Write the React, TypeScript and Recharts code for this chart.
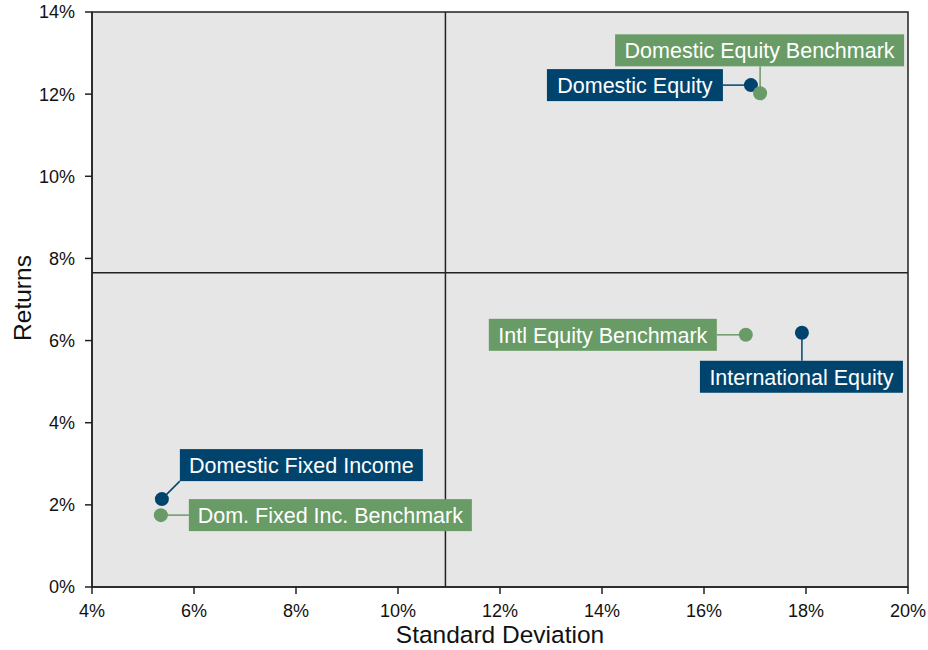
import React from 'react';
import {
  ScatterChart, Scatter, XAxis, YAxis, ReferenceLine, ReferenceArea,
} from 'recharts';

const names = [
  'Domestic Equity',
  'Domestic Equity Benchmark',
  'Intl Equity Benchmark',
  'International Equity',
  'Domestic Fixed Income',
  'Dom. Fixed Inc. Benchmark',
];
const kinds = ['portfolio', 'benchmark', 'benchmark', 'portfolio', 'portfolio', 'benchmark'];
const stdDev = [16.92, 17.1, 16.82, 17.92, 5.37, 5.35];
const returns = [12.22, 12.02, 6.14, 6.19, 2.14, 1.75];

const xTicks = [4, 6, 8, 10, 12, 14, 16, 18, 20];
const yTicks = [0, 2, 4, 6, 8, 10, 12, 14];

const crossX = 10.93;
const crossY = 7.65;

const data = names.map((name, i) => ({ name, kind: kinds[i], x: stdDev[i], y: returns[i] }));

// label box layout (pixel offsets relative to each point)
const labelLayout: Record<string, { dx: number; dy: number; w: number; h: number }> = {
  'Domestic Equity': { dx: -204, dy: -16, w: 176, h: 32 },
  'Domestic Equity Benchmark': { dx: -145, dy: -59, w: 289, h: 32 },
  'Intl Equity Benchmark': { dx: -257, dy: -16, w: 228, h: 32 },
  'International Equity': { dx: -102, dy: 28, w: 203, h: 32 },
  'Domestic Fixed Income': { dx: 18, dy: -50, w: 243, h: 32 },
  'Dom. Fixed Inc. Benchmark': { dx: 28, dy: -16, w: 283, h: 32 },
};

const NAVY = '#00446e';
const GREEN = '#699b66';
const FONT = '"Liberation Sans", Arial, sans-serif';

const renderPoint = (props: any) => {
  const { cx, cy, payload } = props;
  const lay = labelLayout[payload.name];
  const color = payload.kind === 'portfolio' ? NAVY : GREEN;
  const bx = cx + lay.dx;
  const by = cy + lay.dy;
  const lx = Math.min(Math.max(cx, bx), bx + lay.w);
  const ly = Math.min(Math.max(cy, by), by + lay.h);
  return (
    <g>
      <line x1={cx} y1={cy} x2={lx} y2={ly} stroke={color} strokeWidth={1.5} />
      <rect x={bx} y={by} width={lay.w} height={lay.h} fill={color} />
      <text
        x={bx + lay.w / 2}
        y={by + lay.h / 2 + 1}
        textAnchor="middle"
        dominantBaseline="central"
        fill="#ffffff"
        fontSize={21.5}
        fontFamily={FONT}
      >
        {payload.name}
      </text>
      <circle cx={cx} cy={cy} r={7} fill={color} />
    </g>
  );
};

export default function App() {
  return (
    <div style={{ position: 'absolute', left: 0, top: 0, fontFamily: FONT }}>
      <ScatterChart width={928} height={650} margin={{ top: 12, right: 20, bottom: 0, left: 0 }}>
        <ReferenceArea x1={4} x2={20} y1={0} y2={14} fill="#e6e6e6" fillOpacity={1} stroke="#222" strokeWidth={1.5} />
        <XAxis
          type="number"
          dataKey="x"
          domain={[4, 20]}
          ticks={xTicks}
          tickFormatter={(v: number) => `${v}%`}
          height={63}
          tickSize={7}
          tickMargin={10}
          stroke="#222"
          strokeWidth={1.5}
          tick={{ fill: '#111', fontSize: 18, fontFamily: FONT }}
          label={{
            content: () => (
              <text x={500} y={643} textAnchor="middle" fill="#111" fontSize={24.5} fontFamily={FONT}>
                Standard Deviation
              </text>
            ),
          }}
        />
        <YAxis
          type="number"
          dataKey="y"
          domain={[0, 14]}
          ticks={yTicks}
          tickFormatter={(v: number) => `${v}%`}
          width={92}
          tickSize={7}
          tickMargin={10}
          stroke="#222"
          strokeWidth={1.5}
          tick={{ fill: '#111', fontSize: 18, fontFamily: FONT }}
          label={{
            content: () => (
              <text
                x={22}
                y={298}
                transform="rotate(-90 22 298)"
                textAnchor="middle"
                dominantBaseline="central"
                fill="#111"
                fontSize={24.5}
                fontFamily={FONT}
              >
                Returns
              </text>
            ),
          }}
        />
        <ReferenceLine x={crossX} stroke="#222" strokeWidth={1.5} />
        <ReferenceLine y={crossY} stroke="#222" strokeWidth={1.5} />
        <Scatter data={data} shape={renderPoint} isAnimationActive={false} />
      </ScatterChart>
    </div>
  );
}
